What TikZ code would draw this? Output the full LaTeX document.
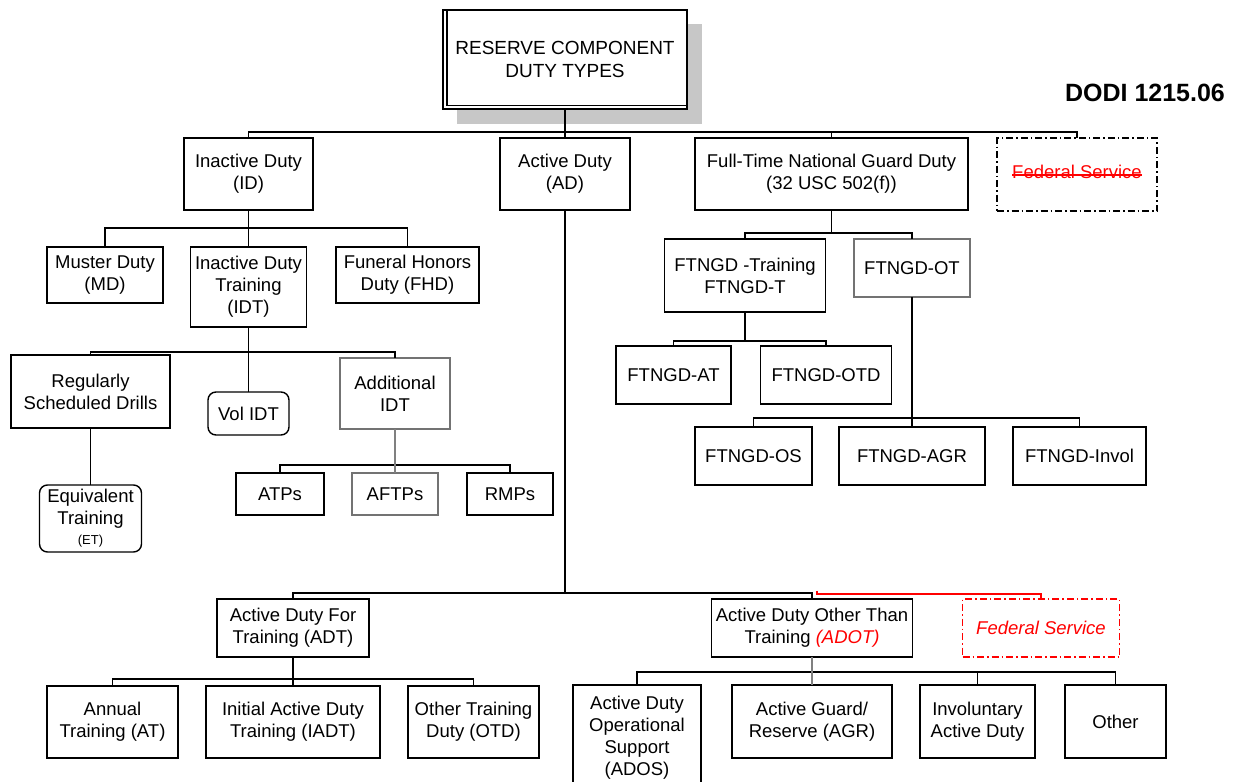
\documentclass[tikz,border=0pt]{standalone}
\usepackage{fontspec}
\setmainfont{Liberation Sans}
\begin{document}
\begin{tikzpicture}[x=1pt,y=-1pt,
  every node/.style={inner sep=0pt,outer sep=0pt,align=center},
  box/.style={draw=black,line width=1.4pt,fill=white,font=\fontsize{18.5}{22}\selectfont},
  gbox/.style={box,draw=black!55},
  tbox/.style={box,line width=2.4pt},
  rbox/.style={box,rounded corners=8pt},
  fedbox/.style={draw,line width=1.3pt,dash pattern=on 7pt off 3pt on 1.5pt off 3pt,
     font=\fontsize{18.5}{22}\selectfont},
  conn/.style={line width=1.5pt,draw=black},
  gconn/.style={conn,draw=black!50}]
\useasboundingbox (0,0) rectangle (1240,782);
\clip (0,0) rectangle (1240,782);
\fill[white] (0,0) rectangle (1240,782);
% top
\fill[black!22] (457,24) rectangle (702,124);
\node[box,minimum width=244pt,minimum height=99pt,font=\fontsize{19}{23}\selectfont] (top) at (565,59.5) {RESERVE COMPONENT\\DUTY TYPES};
\draw[line width=1.2pt] (447,11) -- (447,105.5) -- (687,105.5);
\node[font=\bfseries\fontsize{25}{28}\selectfont] (dodi) at (1145,93) {DODI 1215.06};
% level 1
\node[tbox,minimum width=129pt,minimum height=72pt] (ID) at (248.5,174) {Inactive Duty\\(ID)};
\node[tbox,minimum width=130pt,minimum height=72pt] (AD) at (565,174) {Active Duty\\(AD)};
\node[tbox,minimum width=273pt,minimum height=72pt] (FT) at (831.5,174) {Full-Time National Guard Duty\\(32 USC 502(f))};
\node[fedbox,minimum width=160pt,minimum height=73pt] (fed1) at (1077,174.5) {};
\node[font=\fontsize{18.5}{22}\selectfont,text=red] (fedtxt) at (1077,172) {Federal Service};
\draw[red,line width=1.1pt] ([yshift=-3pt]fedtxt.west) -- ([yshift=-3pt]fedtxt.east);
\coordinate (b1) at (565,132);
\draw[conn] (ID.north) |- (b1) -| (fed1.north);
\draw[conn] (top.south) -- (AD.north);
\draw[conn] (FT.north) -- (FT.north |- b1);
% ID children
\node[box,minimum width=116pt,minimum height=56pt] (MD) at (105,275) {Muster Duty\\(MD)};
\node[box,minimum width=116pt,minimum height=80pt] (IDT) at (248.5,287) {Inactive Duty\\Training\\(IDT)};
\node[box,minimum width=143pt,minimum height=56pt] (FHD) at (407.5,275) {Funeral Honors\\Duty (FHD)};
\coordinate (b2) at (248.5,228);
\draw[conn] (MD.north) |- (b2) -| (FHD.north);
\draw[conn] (ID.south) -- (IDT.north);
% IDT children
\node[box,minimum width=159pt,minimum height=73pt] (RSD) at (90.5,391.5) {Regularly\\Scheduled Drills};
\node[rbox,minimum width=81pt,minimum height=43pt] (vol) at (248.5,413.5) {Vol IDT};
\node[gbox,minimum width=110pt,minimum height=71pt] (add) at (395,393.5) {Additional\\IDT};
\coordinate (b3) at (248.5,352);
\draw[conn] (RSD.north) |- (b3) -| (add.north);
\draw[conn] (IDT.south) -- (vol.north);
\node[rbox,minimum width=102pt,minimum height=67pt] (ET) at (90.5,518.5) {Equivalent\\Training\\[-2pt]{\fontsize{13}{15}\selectfont (ET)}};
\draw[conn] (RSD.south) -- (ET.north);
\node[box,minimum width=88pt,minimum height=42pt] (ATP) at (280,494) {ATPs};
\node[gbox,minimum width=86pt,minimum height=42pt] (AFTP) at (395,494) {AFTPs};
\node[box,minimum width=86pt,minimum height=42pt] (RMP) at (510,494) {RMPs};
\coordinate (b4) at (395,465);
\draw[conn] (ATP.north) |- (b4) -| (RMP.north);
\draw[gconn] (add.south) -- (AFTP.north);
% FTNGD children
\node[box,minimum width=161pt,minimum height=73pt] (FTT) at (745,275.5) {FTNGD -Training\\FTNGD-T};
\node[gbox,minimum width=116pt,minimum height=58pt] (FTOT) at (912,268) {FTNGD-OT};
\coordinate (b5) at (831.5,233);
\draw[conn] (FTT.north) |- (b5) -| (FTOT.north);
\draw[conn] (FT.south) -- (FT.south |- b5);
\node[box,minimum width=115pt,minimum height=58pt] (FTAT) at (673.5,375) {FTNGD-AT};
\node[box,minimum width=131pt,minimum height=58pt] (FTOTD) at (826,375) {FTNGD-OTD};
\coordinate (b6) at (745,341);
\draw[conn] (FTAT.north) |- (b6) -| (FTOTD.north);
\draw[conn] (FTT.south) -- (FTT.south |- b6);
\node[box,minimum width=117pt,minimum height=58pt] (FTOS) at (753.5,456) {FTNGD-OS};
\node[box,minimum width=146pt,minimum height=58pt] (FTAGR) at (912,456) {FTNGD-AGR};
\node[box,minimum width=133pt,minimum height=58pt] (FTINV) at (1079.5,456) {FTNGD-Invol};
\coordinate (b7) at (912,418);
\draw[conn] (FTOS.north) |- (b7) -| (FTINV.north);
\draw[conn] (FTOT.south) -- (FTAGR.north);
% AD children
\node[box,minimum width=152pt,minimum height=58pt] (ADT) at (293,628) {Active Duty For\\Training (ADT)};
\node[box,minimum width=201pt,minimum height=58pt] (ADOT) at (812,628) {Active Duty Other Than\\Training {\color{red}\itshape (ADOT)}};
\node[fedbox,draw=red,minimum width=157pt,minimum height=58pt] (fed2) at (1041,628) {\color{red}\itshape Federal Service};
\coordinate (b8) at (565,593);
\draw[conn] (ADT.north) |- (b8) -| (ADOT.north);
\draw[conn] (AD.south) -- (AD.south |- b8);
\coordinate (r0) at (817,590.5);
\draw[line width=1.3pt,red] (r0) -- ++(0,3.5) -| (fed2.north);
% ADT children
\node[box,minimum width=131pt,minimum height=72pt] (AT) at (112.5,722) {Annual\\Training (AT)};
\node[box,minimum width=174pt,minimum height=72pt] (IADT) at (293,722) {Initial Active Duty\\Training (IADT)};
\node[box,minimum width=131pt,minimum height=72pt] (OTD) at (473.5,722) {Other Training\\Duty (OTD)};
\coordinate (b9) at (293,679);
\draw[conn] (AT.north) |- (b9) -| (OTD.north);
\draw[conn] (ADT.south) -- (IADT.north);
% ADOT children
\node[box,minimum width=128pt,minimum height=105pt] (ADOS) at (637,737.5) {Active Duty\\Operational\\Support\\(ADOS)};
\node[box,minimum width=160pt,minimum height=73pt] (AGR) at (812,721.5) {Active Guard/\\Reserve (AGR)};
\node[box,minimum width=115pt,minimum height=73pt] (INV) at (977.5,721.5) {Involuntary\\Active Duty};
\node[box,minimum width=101pt,minimum height=73pt] (OTH) at (1115.5,721.5) {Other};
\coordinate (b10) at (812,672);
\draw[conn] (ADOS.north) |- (b10) -| (OTH.north);
\draw[gconn] (ADOT.south) -- (AGR.north);
\draw[conn] (INV.north) -- (INV.north |- b10);
\end{tikzpicture}
\end{document}
